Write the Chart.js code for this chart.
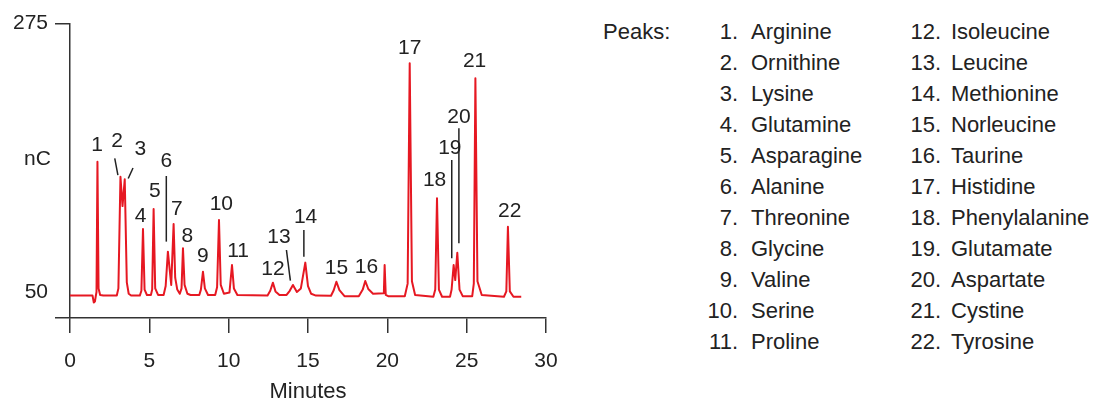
<!DOCTYPE html>
<html lang="en">
<head>
<meta charset="UTF-8">
<title>Amino acid chromatogram</title>
<script src="https://cdn.jsdelivr.net/npm/chart.js@4.4.1/dist/chart.umd.min.js"></script>
<style>
    body {
        margin: 0;
        background: #fff;
        font-family: 'Liberation Sans', Arial, sans-serif;
        color: #222;
    }
    #wrap { position: relative; width: 1106px; height: 410px; }
    #chartBox { position: absolute; left: 0; top: 0; width: 590px; height: 410px; }
    .yTitle { position: absolute; left: 24px; top: 146px; font-size: 21px; line-height: 24px; }
    #legend div { position: absolute; font-size: 22px; line-height: 24px; white-space: nowrap; }
    #legend .num { width: 50px; text-align: right; }
</style>
</head>
<body>
<div id="wrap">
    <div id="chartBox"><canvas id="chrom"></canvas></div>
    <div class="yTitle">nC</div>
    <div id="legend"></div>
</div>

<script>
// trace (minutes, nC)
const traceMinutes = [0, 1.42, 1.50, 1.57, 1.63, 1.67, 1.73, 1.80, 1.90, 2.10,
    2.95, 3.05, 3.18, 3.31, 3.45, 3.58, 3.70, 3.85,
    4.40, 4.50, 4.60, 4.70, 4.85, 5.10, 5.18, 5.27, 5.37, 5.55,
    5.90, 6.03, 6.17, 6.38, 6.53, 6.63, 6.76, 6.92, 7.03, 7.12, 7.22, 7.40, 7.60,
    8.15, 8.25, 8.38, 8.50, 8.70, 9.15, 9.27, 9.39, 9.50, 9.70, 10.05, 10.21, 10.33, 10.55,
    12.45, 12.62, 12.79, 12.95, 13.20, 13.65, 13.85, 14.05, 14.30, 14.55, 14.83, 15.00, 15.20, 15.50,
    16.45, 16.62, 16.79, 16.98, 17.30, 18.20, 18.45, 18.61, 18.80, 19.10,
    19.78, 19.83, 19.90, 20.05, 21.10, 21.28, 21.41, 21.55, 21.75,
    22.90, 23.02, 23.13, 23.25, 23.45, 23.95, 24.05, 24.18, 24.28, 24.41, 24.55, 24.75,
    25.35, 25.45, 25.55, 25.68, 25.95, 27.35, 27.50, 27.60, 27.72, 27.95, 28.44];
const traceNC = [47, 47, 41.2, 42, 47, 50, 159.2, 53, 47.5, 47,
    47, 53, 146.6, 122, 144.4, 58, 48.5, 47,
    47, 51, 102.8, 52, 47.5, 47.5, 52, 119.6, 53, 47.5,
    47.5, 55, 83.8, 55.9, 107, 62, 52, 48.5, 53, 86.6, 56, 48.5, 47.5,
    47.5, 52, 67, 53, 47.5, 47.5, 54, 110.3, 56, 48.5, 49.5, 72.6, 53, 47.5,
    47, 51, 57.8, 50.5, 47.5, 47.5, 51, 55.9, 50, 53, 74.6, 55, 48.5, 47,
    46.8, 51.5, 58.6, 51.5, 46.5, 46.5, 52, 59.2, 52.5, 48.5,
    49, 72.6, 47.5, 46.5, 46.5, 57, 241.7, 59, 47.5,
    46, 52, 128.5, 52, 46, 46, 52, 72.6, 60, 82.9, 52, 46.5,
    46.5, 57, 229.1, 59, 47.5, 46, 50.5, 104.7, 50.5, 46, 46];

// peak numbers and where their labels sit (minutes, nC)
const peakNumbers = ['1', '2', '3', '4', '5', '6', '7', '8', '9', '10', '11',
    '12', '13', '14', '15', '16', '17', '18', '19', '20', '21', '22'];
const labelMinutes = [1.70, 2.96, 4.44, 4.45, 5.34, 6.07, 6.74, 7.40, 8.38, 9.54, 10.59,
    12.79, 13.17, 14.85, 16.79, 18.68, 21.41, 22.98, 23.94, 24.51, 25.50, 27.71];
const labelNC = [173.2, 176, 169.6, 113.7, 134.6, 159.2, 119.3, 96.9, 80.2, 123.7, 83.8,
    69.3, 96.3, 112.6, 69.9, 70.7, 254.2, 143.9, 170.4, 196.4, 243, 117.3];

// leader lines from label to peak
const leaderFromMin = [2.82, 3.97, 6.07, 13.64, 14.74, 24.06, 24.51];
const leaderFromNC = [162, 153.9, 147.2, 85.2, 102, 160.6, 187.2];
const leaderToMin = [3.02, 3.67, 6.07, 13.89, 14.74, 24.06, 24.51];
const leaderToNC = [148, 145.1, 92.2, 59.5, 79.6, 78.2, 90.8];

const peakNames = ['Arginine', 'Ornithine', 'Lysine', 'Glutamine', 'Asparagine', 'Alanine',
    'Threonine', 'Glycine', 'Valine', 'Serine', 'Proline', 'Isoleucine', 'Leucine',
    'Methionine', 'Norleucine', 'Taurine', 'Histidine', 'Phenylalanine', 'Glutamate',
    'Aspartate', 'Cystine', 'Tyrosine'];

const xTicks = [0, 5, 10, 15, 20, 25, 30];
const yMin = 28.2;
const yMax = 275;
const yTickValues = [yMin, 50, 275];

const textColor = '#222';
const fontFamily = "'Liberation Sans', Arial, sans-serif";

// legend on the right
const legend = document.getElementById('legend');
function addDiv(text, cls, left, top) {
    const d = document.createElement('div');
    d.textContent = text;
    if (cls) d.className = cls;
    d.style.left = left + 'px';
    d.style.top = top + 'px';
    legend.appendChild(d);
}
addDiv('Peaks:', null, 603, 32.3 - 12);
peakNames.forEach((name, i) => {
    const col = i < 11 ? 0 : 1;
    const row = i % 11;
    const top = 32.3 + 30.94 * row - 12;
    addDiv(peakNumbers[i] + '.', 'num', col === 0 ? 688 : 891, top);
    addDiv(name, null, col === 0 ? 751 : 951, top);
});

const peakLabels = {
    id: 'peakLabels',
    afterDatasetsDraw(chart) {
        const { ctx, scales: { x, y } } = chart;
        ctx.save();
        ctx.strokeStyle = textColor;
        ctx.lineWidth = 1.5;
        leaderFromMin.forEach((t, i) => {
            ctx.beginPath();
            ctx.moveTo(x.getPixelForValue(t), y.getPixelForValue(leaderFromNC[i]));
            ctx.lineTo(x.getPixelForValue(leaderToMin[i]), y.getPixelForValue(leaderToNC[i]));
            ctx.stroke();
        });
        ctx.fillStyle = textColor;
        ctx.font = '21px ' + fontFamily;
        ctx.textAlign = 'center';
        ctx.textBaseline = 'middle';
        peakNumbers.forEach((s, i) => {
            ctx.fillText(s, x.getPixelForValue(labelMinutes[i]), y.getPixelForValue(labelNC[i]));
        });
        ctx.restore();
    }
};

new Chart(document.getElementById('chrom'), {
    type: 'line',
    data: {
        datasets: [{
            data: traceMinutes.map((t, i) => ({ x: t, y: traceNC[i] })),
            borderColor: 'rgb(230, 24, 34)',
            borderWidth: 2,
            borderJoinStyle: 'round',
            pointRadius: 0,
            tension: 0,
            fill: false
        }]
    },
    options: {
        responsive: true,
        maintainAspectRatio: false,
        animation: false,
        layout: { padding: { top: 23.5, right: 44, left: 0, bottom: 0 } },
        plugins: { legend: { display: false }, tooltip: { enabled: false } },
        scales: {
            x: {
                type: 'linear',
                min: 0,
                max: 30,
                afterBuildTicks: s => { s.ticks = xTicks.map(v => ({ value: v })); },
                afterFit: s => { s.height = 92; },
                ticks: { color: textColor, font: { family: fontFamily, size: 21 }, padding: 16, maxRotation: 0 },
                grid: { drawOnChartArea: false, drawTicks: true, tickLength: 15, color: '#333', lineWidth: 1.5 },
                border: { display: true, color: '#333', width: 1.5 },
                title: {
                    display: true, text: 'Minutes', color: textColor,
                    font: { family: fontFamily, size: 22 }, padding: { top: 0, bottom: 5 }
                }
            },
            y: {
                type: 'linear',
                min: yMin,
                max: yMax,
                afterBuildTicks: s => { s.ticks = yTickValues.map(v => ({ value: v })); },
                afterFit: s => { s.width = 70; },
                ticks: {
                    autoSkip: false, color: textColor, padding: 7,
                    font: { family: fontFamily, size: 21 },
                    callback: v => (v === yMin ? '' : v)
                },
                grid: {
                    drawOnChartArea: false, drawTicks: true, tickLength: 15, lineWidth: 1.5,
                    color: c => (c.tick && c.tick.value === 50 ? 'rgba(0,0,0,0)' : '#333')
                },
                border: { display: true, color: '#333', width: 1.5 }
            }
        }
    },
    plugins: [peakLabels]
});
</script>
</body>
</html>
